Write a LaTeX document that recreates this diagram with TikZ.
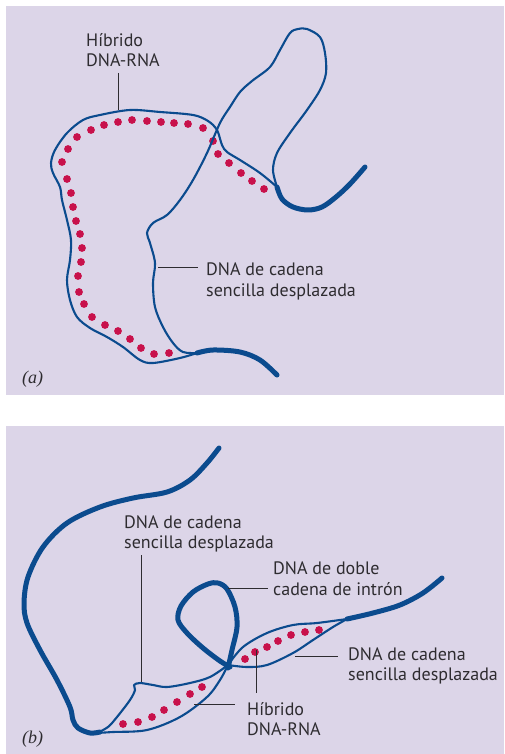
\documentclass[tikz,border=0pt]{standalone}
\usepackage{fontspec}
\setmainfont{PT Sans}
\newfontfamily\panelfont{Liberation Serif}
\definecolor{panelbg}{HTML}{DCD5E8}
\definecolor{strand}{HTML}{0B4B8E}
\definecolor{rnadot}{HTML}{C8114B}
\definecolor{labeltext}{HTML}{2E2C30}
\tikzset{
  thinstrand/.style={draw=strand, line width=2.1pt, line cap=round, line join=round},
  thickstrand/.style={draw=strand, line width=5pt, line cap=round, line join=round},
  leader/.style={draw=labeltext, line width=0.9pt},
  lbl/.style={anchor=base west, inner sep=0pt, text=labeltext, font=\fontsize{18}{21}\selectfont},
  tag/.style={anchor=base west, inner sep=0pt, text=labeltext, font=\panelfont\itshape\fontsize{18}{20}\selectfont},
}
\newcommand{\rnadots}[1]{\foreach \p in {#1} \fill[rnadot] \p circle (3.9pt);}
\begin{document}
\begin{tikzpicture}[x=1pt,y=-1pt]
\useasboundingbox (0,0) rectangle (504,754);
\fill[white] (0,0) rectangle (504,754);
\fill[panelbg] (6,6) rectangle (504,395);
\fill[panelbg] (6,426) rectangle (504,754);

% ---------- panel (a) ----------
% RNA of the hybrid
\rnadots{(169,353),(154,354),(141,348),(130,339),(118,331),(105,325),(92,317),(84,304),(79,292),(78,276),(81,262),(82,248),(80,234),(76,221),(73,207),(71,193),(67,179),(62,162),(68,149),(77,137),(91,130),(104,125),(118,122),(132,120),(147,121),(161,122),(174,123),(188,124),(203,128),(213,141),(218,154),(229,163),(241,173),(252,181),(264,189)}
% DNA strand paired with the RNA
\draw[thinstrand] plot[smooth, tension=0.55] coordinates {(197,353)(180,358)(153,363)(140,360)(123,347)(107,337)(90,328)(77,317)(70,300)(67,280)(70,260)(71,240)(67,220)(62,200)(60,187)(53,173)(51,163)(55,150)(67,133)(83,120)(100,115)(130,110)(160,112)(193,115)(208,121)(217,130)(222,145)(227,152)(240,160)(260,173)(277,187)};
% displaced single strand
\draw[thinstrand] plot[smooth, tension=0.55] coordinates {(197,353)(183,352)(173,343)(163,327)(155,307)(153,283)(155,263)(150,243)(147,233)(153,223)(167,215)(180,200)(193,180)(207,153)(220,123)(230,107)(240,92)(252,81)(270,67)(280,50)(290,33)(298,29)(307,29)(320,37)(325,53)(326,73)(320,90)(307,110)(290,133)(277,153)(273,170)(277,187)};
% duplex ends
\draw[thickstrand] plot[smooth, tension=0.55] coordinates {(277,187)(282,199)(293,207)(308,210)(322,207)(336,197)(350,184)(365,167)};
\draw[thickstrand] plot[smooth, tension=0.55] coordinates {(197,353)(213,350)(240,352)(260,360)(277,375)};

% labels (a)
\node[lbl] (ha1) at (86,47) {Híbrido};
\node[lbl] (ha2) at (86,67) {DNA-RNA};
\coordinate (hatop) at (118,73);
\coordinate (habot) at (118,110);
\draw[leader] (hatop) -- (habot);
\node[lbl] (sa1) at (206,275) {DNA de cadena};
\node[lbl] (sa2) at (206,296) {sencilla desplazada};
\coordinate (saL) at (158,267);
\coordinate (saR) at (198,267);
\draw[leader] (saL) -- (saR);
\node[tag] (taga) at (22,383) {(a)};

% ---------- panel (b) ----------
\rnadots{(123,724),(138,722),(152,717),(164,710),(177,702),(190,694),(202,687),(245,659),(255,652),(267,647),(278,641),(291,635),(305,632),(319,630)}
% long duplex arm
\draw[thickstrand] plot[smooth, tension=0.55] coordinates {(219,448)(207,463)(190,480)(167,492)(133,498)(100,507)(67,523)(43,547)(28,577)(24,603)(27,623)(40,650)(57,680)(70,707)(73,720)(78,728)(90,733)(100,732)};
% lower bubble
\draw[thinstrand] plot[smooth, tension=0.55] coordinates {(97,733)(113,732)(147,730)(180,717)(207,697)(220,680)(228,665)};
\draw[thinstrand] plot[smooth, tension=0.55] coordinates {(97,733)(108,727)(117,717)(130,700)(135,690)(134,685)(140,683)(153,685)(167,687)(190,683)(210,677)(228,665)};
% upper bubble
\draw[thinstrand] plot[smooth, tension=0.55] coordinates {(228,665)(243,647)(267,633)(293,625)(317,623)(347,619)};
\draw[thinstrand] plot[smooth, tension=0.55] coordinates {(228,665)(247,667)(267,665)(293,653)(313,640)(333,627)(347,619)};
% intron duplex loop
\draw[thickstrand] plot[smooth, tension=0.55] coordinates {(228,668)(232,650)(237,627)(235,607)(227,589)(218,583)(208,584)(193,592)(181,606)(178,620)(187,633)(203,648)(220,661)(230,667)};
% right duplex arm
\draw[thickstrand] plot[smooth, tension=0.55] coordinates {(347,619)(373,613)(400,605)(423,593)(442,578)};

% labels (b)
\node[lbl] (sb1) at (124,528) {DNA de cadena};
\node[lbl] (sb2) at (124,548) {sencilla desplazada};
\coordinate (sbtop) at (141,555);
\coordinate (sbbot) at (141,682);
\draw[leader] (sbtop) -- (sbbot);
\node[lbl] (ib1) at (273,574) {DNA de doble};
\node[lbl] (ib2) at (273,595) {cadena de intrón};
\coordinate (ibL) at (228,588);
\coordinate (ibR) at (268,588);
\draw[leader] (ibL) -- (ibR);
\node[lbl] (rb1) at (348,660) {DNA de cadena};
\node[lbl] (rb2) at (348,680) {sencilla desplazada};
\coordinate (rbL) at (295,656);
\coordinate (rbR) at (338,656);
\draw[leader] (rbL) -- (rbR);
\node[lbl] (hb1) at (247,715) {Híbrido};
\node[lbl] (hb2) at (247,735) {DNA-RNA};
\coordinate (hbL) at (194,704);
\coordinate (hbR) at (235,704);
\draw[leader] (hbL) -- (hbR);
\coordinate (hbtop) at (256,650);
\coordinate (hbbot) at (256,693);
\draw[leader] (hbtop) -- (hbbot);
\node[tag] (tagb) at (22,743) {(b)};
\end{tikzpicture}
\end{document}
